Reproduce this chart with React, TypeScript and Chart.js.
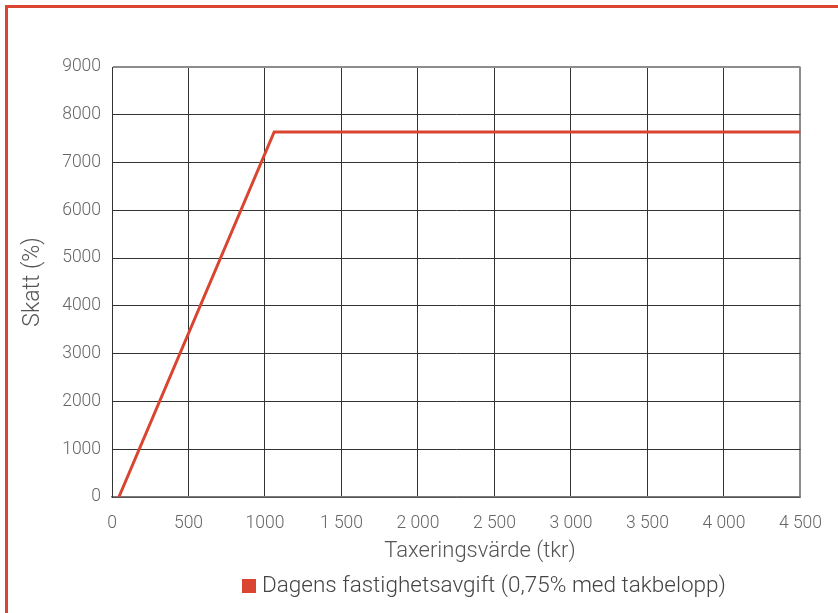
import React, { useEffect, useRef } from 'react';
import { Chart, registerables } from 'chart.js';

Chart.register(...registerables);

const seriesLabel = 'Dagens fastighetsavgift (0,75% med takbelopp)';
const xValues = [45, 1060, 4500];
const yValues = [0, 7640, 7640];
const xTickValues = [0, 500, 1000, 1500, 2000, 2500, 3000, 3500, 4000, 4500];
const xTickLabels = ['0', '500', '1000', '1 500', '2 000', '2 500', '3 000', '3 500', '4 000', '4 500'];
const yTickValues = [0, 1000, 2000, 3000, 4000, 5000, 6000, 7000, 8000, 9000];
const xAxisTitle = 'Taxeringsvärde (tkr)';
const yAxisTitle = 'Skatt (%)';

const RED = '#d94530';
const FONT = 'Roboto, "Liberation Sans", Arial, sans-serif';

const extraText = {
  id: 'extraText',
  afterDraw(chart: any) {
    const ctx = chart.ctx as CanvasRenderingContext2D;
    ctx.save();
    ctx.font = `300 22px ${FONT}`;
    ctx.fillStyle = '#555';
    ctx.textAlign = 'center';
    ctx.textBaseline = 'middle';
    ctx.fillText(xAxisTitle, 480, 551);
    // legend
    ctx.fillStyle = RED;
    ctx.fillRect(242, 579, 14, 14);
    ctx.fillStyle = '#444';
    ctx.textAlign = 'left';
    ctx.font = `300 22.5px ${FONT}`;
    ctx.fillText(seriesLabel, 262, 586);
    ctx.restore();
  },
};

export default function App() {
  const ref = useRef<HTMLCanvasElement | null>(null);
  useEffect(() => {
    if (!ref.current) return;
    const chart = new Chart(ref.current, {
      type: 'line',
      data: {
        datasets: [
          {
            label: seriesLabel,
            data: xValues.map((x, i) => ({ x, y: yValues[i] })),
            borderColor: RED,
            backgroundColor: RED,
            borderWidth: 3,
            pointRadius: 0,
            tension: 0,
          },
        ],
      },
      options: {
        responsive: false,
        animation: false,
        layout: { padding: { top: 67, right: 35, left: 0, bottom: 0 } },
        plugins: { legend: { display: false }, tooltip: { enabled: false } },
        scales: {
          x: {
            type: 'linear',
            min: 0,
            max: 4500,
            afterBuildTicks: (axis: any) => {
              axis.ticks = xTickValues.map((v) => ({ value: v }));
            },
            afterFit: (axis: any) => {
              axis.height = 116;
            },
            ticks: {
              callback: (v: any) => {
                const i = xTickValues.indexOf(Number(v));
                return i >= 0 ? xTickLabels[i] : '';
              },
              font: { family: FONT, size: 17.5, weight: '300' as any },
              color: '#666',
              padding: 16,
              maxRotation: 0,
              autoSkip: false,
            },
            grid: {
              drawTicks: false,
              color: (c: any) => (c.tick && c.tick.value === 4500 ? '#8c8c8c' : '#333'),
              lineWidth: (c: any) => (c.tick && c.tick.value === 4500 ? 2 : 1),
            },
            border: { color: '#7a7a7a', width: 1.5 },
          },
          y: {
            type: 'linear',
            min: 0,
            max: 9000,
            afterBuildTicks: (axis: any) => {
              axis.ticks = yTickValues.map((v) => ({ value: v }));
            },
            afterFit: (axis: any) => {
              axis.width = 112;
            },
            ticks: {
              callback: (v: any) => String(v),
              font: { family: FONT, size: 17.5, weight: '300' as any },
              color: '#666',
              padding: 11,
            },
            grid: {
              drawTicks: false,
              color: (c: any) => (c.tick && c.tick.value === 9000 ? '#8c8c8c' : '#333'),
              lineWidth: (c: any) => (c.tick && c.tick.value === 9000 ? 2 : 1),
            },
            border: { color: '#333', width: 1 },
            title: {
              display: true,
              text: yAxisTitle,
              font: { family: FONT, size: 23, weight: '300' as any },
              color: '#555',
              padding: { top: 19, bottom: 0 },
            },
          },
        },
      },
      plugins: [extraText],
    });
    return () => chart.destroy();
  }, []);

  return (
    <div
      style={{
        position: 'fixed',
        left: 0,
        top: 0,
        width: 838,
        height: 613,
        background: '#fff',
        overflow: 'hidden',
      }}
    >
      <canvas ref={ref} width={838} height={613} style={{ position: 'absolute', left: 0, top: 0 }} />
      <div
        style={{
          position: 'absolute',
          left: 5,
          top: 5,
          width: 850,
          height: 700,
          borderLeft: `3px solid ${RED}`,
          borderTop: `3px solid ${RED}`,
          pointerEvents: 'none',
        }}
      />
    </div>
  );
}
